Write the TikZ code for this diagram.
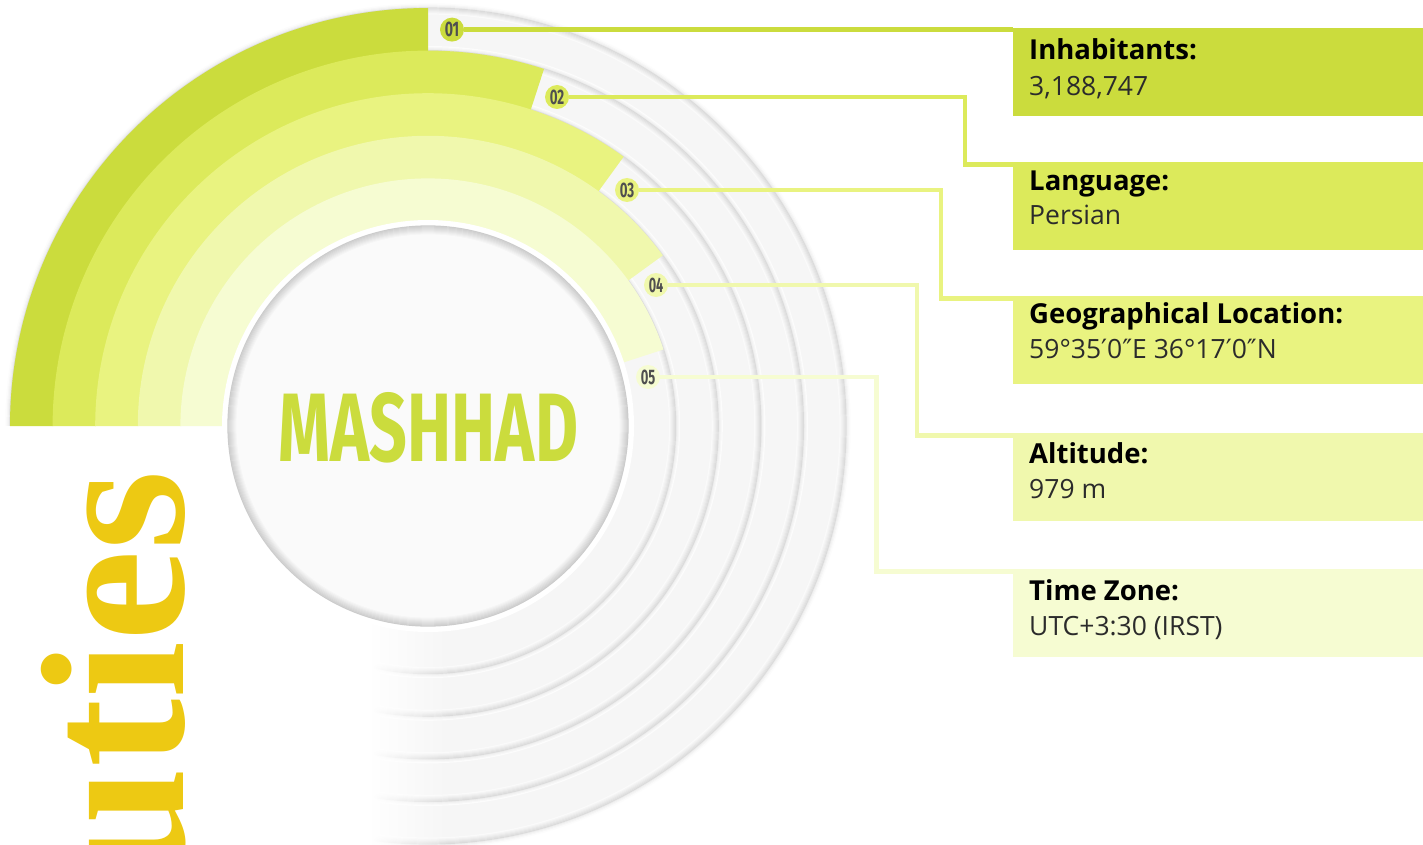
\documentclass[tikz,border=0pt]{standalone}
\usepackage{fontspec}
\setmainfont{Open Sans}
\newfontfamily\tiesfont{Liberation Serif}
\newfontfamily\condfont{Fira Sans}
\newfontfamily\symfont{DejaVu Sans}
\usetikzlibrary{fadings}
\definecolor{cA}{HTML}{CBDC3D}
\definecolor{cB}{HTML}{DCEA5B}
\definecolor{cC}{HTML}{E9F380}
\definecolor{cD}{HTML}{F0F8AD}
\definecolor{cE}{HTML}{F6FCD2}
\definecolor{tiesc}{HTML}{EDC913}
\definecolor{numc}{HTML}{4F4F4F}
\definecolor{bandc}{HTML}{F6F6F6}
\definecolor{valc}{HTML}{2B2B2B}
\tikzset{
  numlbl/.style={circle, inner sep=0pt, minimum size=24pt, text=numc},
  infobox/.style={anchor=north west, minimum width=410pt, minimum height=88pt, inner sep=0pt, draw=none},
  conn/.style={line width=4.5pt},
  ttl/.style={anchor=base west, inner sep=0pt, font=\fontsize{27.5}{30}\selectfont\bfseries, text=black},
  val/.style={anchor=base west, inner sep=0pt, font=\fontsize{26.5}{30}\selectfont, text=valc},
}
\newcommand{\numtxt}[1]{\resizebox{14.5pt}{14.5pt}{\condfont\bfseries #1}}
\begin{document}
\begin{tikzpicture}[x=1pt,y=-1pt]
\useasboundingbox (0,0) rectangle (1423,845);
\clip (0,0) rectangle (1423,845);
\fill[white] (0,0) rectangle (1423,845);
\coordinate (C) at (428,426);
% grey stacked discs
\foreach \r in {418,375.4,332.8,290.2,247.6}{
  \foreach \i in {1,...,4}{\draw[line width=1.2pt, black!\the\numexpr 9-2*\i\relax] (C) circle[radius=\r+\i];}
  \fill[bandc] (C) circle[radius=\r];
  \foreach \i in {0,...,6}{\draw[line width=1.2pt, black!\the\numexpr 14-2*\i\relax] (C) circle[radius=\r-\i];}
}
% fade of the lower left part
\fill[white] (0,426) rectangle (372,845);
\fill[white, path fading=east] (371,426) rectangle (450,845);
% green arcs
\foreach \ro/\ri/\a/\col in {418/374.8/90/cA, 375.4/332.2/72/cB, 332.8/289.6/54/cC, 290.2/247/36/cD, 247.6/204/18/cE}{
  \fill[\col] ({428-\ro},426) arc[start angle=-180, end angle=-\a, radius=\ro]
    -- ({428+\ri*cos(\a)},{426-\ri*sin(\a)}) arc[start angle=-\a, end angle=-180, radius=\ri] -- cycle;
}
% central disc
\fill[white] (C) circle[radius=206];
\fill[black!2] (C) circle[radius=200];
\foreach \i in {0,...,9}{\draw[line width=1.3pt, black!\the\numexpr 20-2*\i\relax] (C) circle[radius=200-\i];}
\node[inner sep=0pt, text=cA] (city) at (428.5,427.5) {\resizebox{299pt}{69pt}{\condfont\bfseries MASHHAD}};
% vertical word
\node[rotate=90, anchor=base east, inner sep=0pt, text=tiesc, font=\tiesfont\bfseries\fontsize{205}{205}\selectfont] (word) at (183,471) {uties};
% info boxes
\node[infobox, fill=cA] (b1) at (1013,27.5) {};
\node[infobox, fill=cB] (b2) at (1013,162) {};
\node[infobox, fill=cC] (b3) at (1013,296) {};
\node[infobox, fill=cD] (b4) at (1013,433) {};
\node[infobox, fill=cE] (b5) at (1013,569) {};
\node[ttl] (t1) at ([xshift=16pt,yshift=-32.5pt]b1.north west) {Inhabitants:};
\node[val] (v1) at ([xshift=16pt,yshift=-68.5pt]b1.north west) {3,188,747};
\node[ttl] (t2) at ([xshift=16pt,yshift=-28.3pt]b2.north west) {Language:};
\node[val] (v2) at ([xshift=16pt,yshift=-62.3pt]b2.north west) {Persian};
\node[ttl] (t3) at ([xshift=16pt,yshift=-27.3pt]b3.north west) {Geographical Location:};
\node[val] (v3) at ([xshift=16pt,yshift=-62.3pt]b3.north west) {59°35{\symfont ′}0{\symfont ″}E 36°17{\symfont ′}0{\symfont ″}N};
\node[ttl] (t4) at ([xshift=16pt,yshift=-30pt]b4.north west) {Altitude:};
\node[val] (v4) at ([xshift=16pt,yshift=-65.7pt]b4.north west) {979 m};
\node[ttl] (t5) at ([xshift=16pt,yshift=-31.7pt]b5.north west) {Time Zone:};
\node[val] (v5) at ([xshift=16pt,yshift=-66.7pt]b5.north west) {UTC+3:30 (IRST)};
% number labels
\node[numlbl, fill=cA] (l1) at (452,29.6) {\numtxt{01}};
\node[numlbl, fill=cB] (l2) at (557,97) {\numtxt{02}};
\node[numlbl, fill=cC] (l3) at (627,190) {\numtxt{03}};
\node[numlbl, fill=cD] (l4) at (656,285) {\numtxt{04}};
\node[numlbl, fill=cE] (l5) at (648,377) {\numtxt{05}};
% connectors
\coordinate (k2) at (965,97);
\coordinate (k3) at (941,190);
\coordinate (k4) at (917,285);
\coordinate (k5) at (876.5,377);
\draw[conn, cA] (l1.east) -- (l1.east -| b1.west);
\draw[conn, cB] (l2.east) -- (k2) |- ([yshift=-2.3pt]b2.north west);
\draw[conn, cC] (l3.east) -- (k3) |- ([yshift=-2.3pt]b3.north west);
\draw[conn, cD] (l4.east) -- (k4) |- ([yshift=-2.3pt]b4.north west);
\draw[conn, cE] (l5.east) -- (k5) |- ([yshift=-2.3pt]b5.north west);
\end{tikzpicture}
\end{document}
